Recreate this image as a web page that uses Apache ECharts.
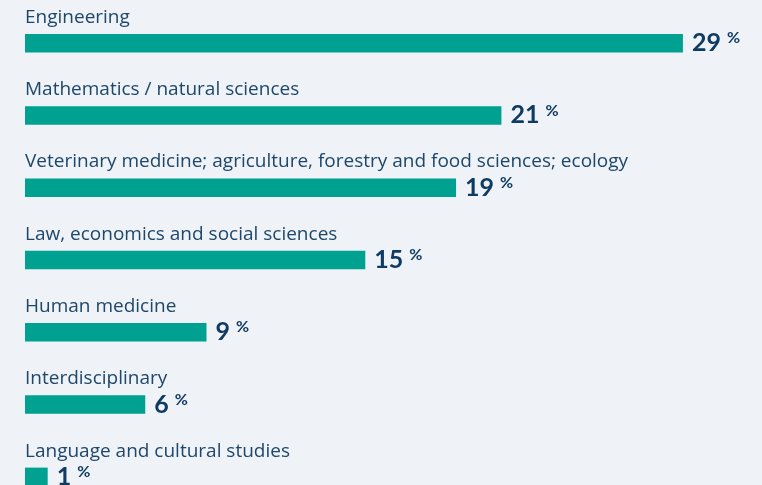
<!DOCTYPE html>
<html>
<head>
<meta charset="utf-8">
<script src="https://cdn.jsdelivr.net/npm/echarts@6/dist/echarts.min.js"></script>
<style>
html,body{margin:0;padding:0;background:#eff2f6;}
#c{width:762px;height:485px;}
</style>
</head>
<body>
<div id="c"></div>
<script>
var categories = [
  'Engineering',
  'Mathematics / natural sciences',
  'Veterinary medicine; agriculture, forestry and food sciences; ecology',
  'Law, economics and social sciences',
  'Human medicine',
  'Interdisciplinary',
  'Language and cultural studies'
];
// bar lengths as drawn in the picture (percent)
var barValues = [29, 21, 19, 15, 8, 5.3, 1];
// printed share labels (percent)
var shareLabels = ['29', '21', '19', '15', '9', '6', '1'];

var chart = echarts.init(document.getElementById('c'), null, {renderer: 'canvas'});
chart.setOption({
  backgroundColor: '#eff2f6',
  animation: false,
  grid: {left: 25, top: 7, right: 56.4, bottom: -28, containLabel: false, outerBoundsMode: 'none'},
  xAxis: {type: 'value', min: 0, max: 30, show: false},
  yAxis: {type: 'category', data: categories, inverse: true, show: false},
  series: [
    {
      type: 'bar',
      data: barValues,
      barWidth: 18.5,
      itemStyle: {color: '#00a190'},
      label: {
        show: true,
        position: 'right',
        distance: 9,
        formatter: function (p) { return '{v|' + shareLabels[p.dataIndex] + '}{p|%}'; },
        rich: {
          v: {fontFamily: 'Lato', fontWeight: 'bold', fontSize: 25, color: '#0f3b63', lineHeight: 26},
          p: {fontFamily: 'Lato', fontWeight: 'bold', fontSize: 16, color: '#0f3b63', verticalAlign: 'top', padding: [0, 0, 0, 6], lineHeight: 16}
        }
      }
    },
    {
      type: 'bar',
      data: barValues,
      barWidth: 18.5,
      barGap: '-100%',
      itemStyle: {color: 'rgba(0,0,0,0)'},
      silent: true,
      label: {
        show: true,
        position: [0, -6],
        verticalAlign: 'bottom',
        align: 'left',
        formatter: function (p) { return p.name; },
        fontFamily: 'Open Sans',
        fontSize: 19,
        lineHeight: 21,
        color: '#1d476b'
      }
    }
  ]
});
</script>
</body>
</html>
